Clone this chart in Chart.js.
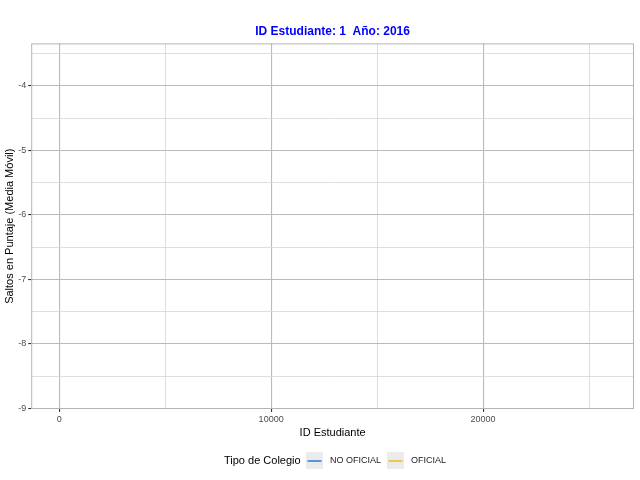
<!DOCTYPE html>
<html>
<head>
<meta charset="utf-8">
<script src="https://cdn.jsdelivr.net/npm/chart.js@4/dist/chart.umd.min.js"></script>
<style>
  html, body { margin: 0; padding: 0; background: #fff; }
  #wrap { width: 640px; height: 480px; }
</style>
</head>
<body>
<div id="wrap"><canvas id="chart" width="640" height="480"></canvas></div>
<script>
// ===============================
//  DATA
// ===============================
const seriesNames = ["NO OFICIAL", "OFICIAL"];
const seriesColours = ["#1F6FD1", "#F5B800"];
// moving average is empty for this frame (student 1, 2016)
const noOficialPoints = [];
const oficialPoints = [];
const xTicks = [0, 10000, 20000];
const xMinorTicks = [5000, 15000, 25000];
const yTicks = [-4, -5, -6, -7, -8, -9];
const yMinorTicks = [-3.5, -4.5, -5.5, -6.5, -7.5, -8.5];

const X_MIN = -1320, X_MAX = 27120;
const Y_MIN = -9.01, Y_MAX = -3.34;

const isMajor = (v, ticks) => ticks.some(t => Math.abs(t - v) < 1e-6);

// ===============================
//  LEGEND (ggplot style, bottom)
// ===============================
const bottomLegend = {
    id: "bottomLegend",
    afterDraw(chart) {
        const ctx = chart.ctx;
        const y = 461;
        ctx.save();
        ctx.font = "11px 'Liberation Sans', Arial, sans-serif";
        ctx.fillStyle = "#000";
        ctx.textBaseline = "middle";
        ctx.textAlign = "left";
        ctx.fillText("Tipo de Colegio", 224, y);

        let x = 306;
        chart.data.datasets.forEach(ds => {
            ctx.fillStyle = "#EBEBEB";
            ctx.fillRect(x, y - 9, 17, 17);
            ctx.strokeStyle = ds.borderColor;
            ctx.lineWidth = 1.4;
            ctx.beginPath();
            ctx.moveTo(x + 1.5, y);
            ctx.lineTo(x + 15.5, y);
            ctx.stroke();
            ctx.font = "9px 'Liberation Sans', Arial, sans-serif";
            ctx.fillStyle = "#1A1A1A";
            ctx.fillText(ds.label, x + 24, y);
            x += 24 + ctx.measureText(ds.label).width + 6;
        });
        ctx.restore();
    }
};

// ===============================
//  PANEL BORDER
// ===============================
const panelBorder = {
    id: "panelBorder",
    afterDatasetsDraw(chart) {
        const a = chart.chartArea;
        const ctx = chart.ctx;
        ctx.save();
        ctx.strokeStyle = "#B3B3B3";
        ctx.lineWidth = 1;
        ctx.strokeRect(a.left + 0.5, a.top + 0.5, a.right - a.left - 1, a.bottom - a.top - 1);
        ctx.restore();
    }
};

// fixed tick positions, majors labelled, minors only gridded
function setTicks(major, minor) {
    return scale => {
        scale.ticks = major.concat(minor).sort((a, b) => a - b).map(v => ({ value: v }));
    };
}

// ===============================
//  BUILD CHART
// ===============================
function buildChart() {
    const tickFont = { family: "'Liberation Sans', Arial, sans-serif", size: 9 };
    const titleFont = { family: "'Liberation Sans', Arial, sans-serif", size: 11 };

    new Chart(document.getElementById("chart"), {
        type: "scatter",
        data: {
            datasets: [
                { label: seriesNames[0], data: noOficialPoints, borderColor: seriesColours[0], borderWidth: 1, pointRadius: 0, showLine: true },
                { label: seriesNames[1], data: oficialPoints, borderColor: seriesColours[1], borderWidth: 1, pointRadius: 0, showLine: true }
            ]
        },
        options: {
            responsive: false,
            animation: false,
            layout: { padding: { left: 3, right: 6, top: 4, bottom: 40 } },
            plugins: {
                legend: { display: false },
                tooltip: { enabled: false },
                title: {
                    display: true,
                    fullSize: false,
                    text: "ID Estudiante: 1  Año: 2016",
                    color: "#0000FF",
                    font: { family: "'Liberation Sans', Arial, sans-serif", size: 12, weight: "bold" },
                    padding: { top: 20, bottom: 5 }
                }
            },
            scales: {
                x: {
                    type: "linear",
                    min: X_MIN,
                    max: X_MAX,
                    border: { display: false },
                    afterBuildTicks: setTicks(xTicks, xMinorTicks),
                    grid: {
                        color: c => isMajor(c.tick.value, xTicks) ? "#BABABA" : "#D6D6D6",
                        lineWidth: c => isMajor(c.tick.value, xTicks) ? 1.1 : 0.8,
                        tickColor: c => isMajor(c.tick.value, xTicks) ? "#333" : "rgba(0,0,0,0)",
                        tickLength: 3
                    },
                    ticks: {
                        autoSkip: false,
                        maxRotation: 0,
                        color: "#4D4D4D",
                        font: tickFont,
                        padding: 2,
                        callback: v => isMajor(v, xTicks) ? String(v) : ""
                    },
                    title: { display: true, text: "ID Estudiante", color: "#000", font: titleFont, padding: { top: 0, bottom: 0 } }
                },
                y: {
                    type: "linear",
                    min: Y_MIN,
                    max: Y_MAX,
                    border: { display: false },
                    afterBuildTicks: setTicks(yTicks, yMinorTicks),
                    grid: {
                        color: c => isMajor(c.tick.value, yTicks) ? "#BABABA" : "#D6D6D6",
                        lineWidth: c => isMajor(c.tick.value, yTicks) ? 1.1 : 0.8,
                        tickColor: c => isMajor(c.tick.value, yTicks) ? "#333" : "rgba(0,0,0,0)",
                        tickLength: 3
                    },
                    ticks: {
                        autoSkip: false,
                        color: "#4D4D4D",
                        font: tickFont,
                        padding: 2,
                        callback: v => isMajor(v, yTicks) ? String(v) : ""
                    },
                    title: { display: true, text: "Saltos en Puntaje (Media Móvil)", color: "#000", font: titleFont, padding: { top: 0, bottom: 0 } }
                }
            }
        },
        plugins: [panelBorder, bottomLegend]
    });
}

buildChart();
</script>
</body>
</html>
